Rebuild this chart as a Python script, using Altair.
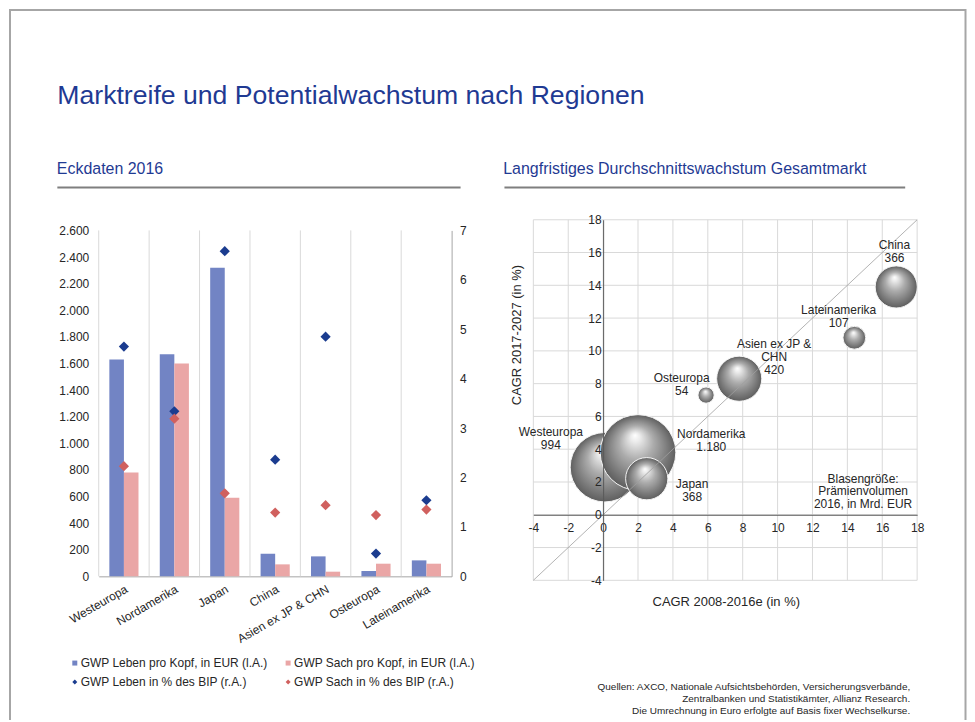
import altair as alt
import pandas as pd

# ---------------- data ----------------
regions = ["Westeuropa", "Nordamerika", "Japan", "China", "Asien ex JP & CHN", "Osteuropa", "Lateinamerika"]
leben_pro_kopf = [1630, 1670, 2320, 170, 150, 40, 120]
sach_pro_kopf = [780, 1600, 590, 90, 35, 95, 95]
leben_bip = [4.65, 3.34, 6.58, 2.36, 4.85, 0.46, 1.54]
sach_bip = [2.23, 3.19, 1.68, 1.29, 1.44, 1.24, 1.35]
series = ["GWP Leben pro Kopf, in EUR (l.A.)", "GWP Sach pro Kopf, in EUR (l.A.)",
          "GWP Leben in % des BIP (r.A.)", "GWP Sach in % des BIP (r.A.)"]
left_ticks = list(range(0, 2601, 200))
right_ticks = list(range(0, 8))

bubble_regions = ["Westeuropa", "Nordamerika", "Japan", "Osteuropa", "Asien ex JP & CHN", "Lateinamerika", "China"]
cagr_2008_2016 = [0.1, 2.0, 2.5, 5.9, 7.8, 14.4, 16.8]
cagr_2017_2027 = [2.9, 3.8, 2.2, 7.3, 8.3, 10.8, 13.9]
volumen = [994, 1180, 368, 54, 420, 107, 366]
bubble_labels = ["Westeuropa\n994", "Nordamerika\n1.180", "Japan\n368", "Osteuropa\n54",
                 "Asien ex JP &\nCHN\n420", "Lateinamerika\n107", "China\n366"]
label_x = [-3.0, 6.2, 5.1, 4.5, 9.8, 13.5, 16.7]
label_y = [5.04, 4.92, 1.9, 8.37, 10.4, 12.48, 16.48]
bubble_ticks = list(range(-4, 19, 2))

title = "Marktreife und Potentialwachstum nach Regionen"
sub_left = "Eckdaten 2016"
sub_right = "Langfristiges Durchschnittswachstum Gesamtmarkt"
x_title_bubble = "CAGR 2008-2016e (in %)"
y_title_bubble = "CAGR 2017-2027 (in %)"
note = "Blasengröße:\nPrämienvolumen\n2016, in Mrd. EUR"
note_x, note_y = 14.9, 2.18
footer = ("Quellen: AXCO, Nationale Aufsichtsbehörden, Versicherungsverbände,\n"
          "Zentralbanken und Statistikämter, Allianz Research.\n"
          "Die Umrechnung in Euro erfolgte auf Basis fixer Wechselkurse.")

# ---------------- layout ----------------
W, H = 962, 712
FONT = "Liberation Sans, Arial, sans-serif"
BLUE_T = "#1f3a93"
TXT = "#262626"

LX0, LX1 = 91, 445        # left plot x range
LYB, LYT = 569, 222       # left plot y bottom / top
BX0, BX1 = 527, 912       # bubble plot x range
BYB, BYT = 573, 211.3     # bubble plot y bottom / top
bx0 = BX0 + (0 - (-4)) * (BX1 - BX0) / 22.0
by0 = BYB + (0 - (-4)) * (BYT - BYB) / 22.0


def cat_scale():
    return alt.Scale(domain=regions, range=[LX0, LX1], paddingInner=0, paddingOuter=0)


def bx_scale():
    return alt.Scale(domain=[-4, 18], range=[BX0, BX1], nice=False, zero=False)


def by_scale():
    return alt.Scale(domain=[-4, 18], range=[BYB, BYT], nice=False, zero=False)


def text_layer(s, x, y, **kw):
    return alt.Chart(pd.DataFrame({"t": [s]})).mark_text(font=FONT, lineBreak="\n", **kw).encode(
        x=alt.value(x), y=alt.value(y), text="t:N")


one = pd.DataFrame({"a": [0]})

frame = alt.Chart(one).mark_rect(fillOpacity=0, stroke="#a6a6a6", strokeWidth=2).encode(
    x=alt.value(2), x2=alt.value(960.5), y=alt.value(1), y2=alt.value(H + 40))

t_title = text_layer(title, 49.5, 95.5, fontSize=26.7, color=BLUE_T, align="left", baseline="alphabetic")
t_sub_l = text_layer(sub_left, 49, 165.3, fontSize=16, color=BLUE_T, align="left", baseline="alphabetic")
t_sub_r = text_layer(sub_right, 496.8, 165.3, fontSize=16, color=BLUE_T, align="left", baseline="alphabetic")
rule_l = alt.Chart(one).mark_rule(color="#7f7f7f", strokeWidth=2).encode(
    x=alt.value(49.5), x2=alt.value(454), y=alt.value(179))
rule_r = alt.Chart(one).mark_rule(color="#7f7f7f", strokeWidth=2).encode(
    x=alt.value(498), x2=alt.value(900), y=alt.value(179))
t_footer = text_layer(footer, 905, 675.5, fontSize=10, color=TXT, align="right", baseline="top", lineHeight=12)
t_xt = text_layer(x_title_bubble, 720.5, 595, fontSize=13, color=TXT, align="center", baseline="middle")
t_yt = text_layer(y_title_bubble, 511, 327, fontSize=13, color=TXT, align="center", baseline="middle", angle=270)

# ---------------- left chart ----------------
legend = alt.Legend(title=None, orient="none", legendX=61, legendY=650, columns=2, direction="horizontal",
                    columnPadding=14, rowPadding=7, labelFont=FONT, labelFontSize=12, labelColor=TXT,
                    symbolSize=25, labelLimit=400, labelOffset=0, symbolStrokeWidth=0)
color_scale = alt.Scale(domain=series, range=["#7284c4", "#eaa6a6", "#1b3c8f", "#d0605e"])
shape_scale = alt.Scale(domain=series, range=["square", "square", "diamond", "diamond"])

sep = alt.Chart(pd.DataFrame({"Region": regions})).mark_rule(color="#d9d9d9", strokeWidth=1).encode(
    x=alt.X("Region:N", scale=cat_scale(), bandPosition=0, axis=None),
    y=alt.Y(datum=0, scale=alt.Scale(domain=[0, 2600], range=[LYB, LYT]), axis=None),
    y2=alt.Y2(datum=2600),
)

bars_df = pd.DataFrame({
    "Region": regions * 2,
    "Serie": [series[0]] * 7 + [series[1]] * 7,
    "Wert": leben_pro_kopf + sach_pro_kopf,
})
bars = alt.Chart(bars_df).mark_bar().encode(
    x=alt.X("Region:N", sort=regions, scale=cat_scale(),
            axis=alt.Axis(orient="bottom", offset=LYB - H, title=None, labelAngle=-30, ticks=False, tickSize=0,
                          labelPadding=7, domainColor="#a6a6a6", labelFontSize=12, labelColor=TXT,
                          labelFont=FONT, grid=False, labelOverlap=False)),
    xOffset=alt.XOffset("Serie:N", sort=series[:2],
                        scale=alt.Scale(domain=series[:2], paddingInner=0, paddingOuter=0.73)),
    y=alt.Y("Wert:Q", scale=alt.Scale(domain=[0, 2600], range=[LYB, LYT], nice=False),
            axis=alt.Axis(orient="left", offset=-LX0, title=None, values=left_ticks,
                          labelExpr="replace(format(datum.value, ','), ',', '.')",
                          grid=False, ticks=False, tickSize=0, labelPadding=10, domain=False,
                          labelFontSize=12, labelColor=TXT, labelFont=FONT)),
    color=alt.Color("Serie:N", scale=color_scale, legend=legend),
)

pts_df = pd.DataFrame({
    "Region": regions * 2,
    "Serie": [series[2]] * 7 + [series[3]] * 7,
    "Wert": leben_bip + sach_bip,
})
pts = alt.Chart(pts_df).mark_point(filled=True, size=105, opacity=1).encode(
    x=alt.X("Region:N", sort=regions, scale=cat_scale(), axis=None),
    y=alt.Y("Wert:Q", scale=alt.Scale(domain=[0, 7], range=[LYB, LYT], nice=False),
            axis=alt.Axis(orient="right", offset=LX1 - W, title=None, values=right_ticks,
                          grid=False, ticks=False, tickSize=0, labelPadding=8, domainColor="#a6a6a6",
                          labelFontSize=12, labelColor=TXT, labelFont=FONT)),
    color=alt.Color("Serie:N", scale=color_scale, legend=legend),
    shape=alt.Shape("Serie:N", scale=shape_scale, legend=legend),
)

# ---------------- bubble chart ----------------
tick_df = pd.DataFrame({"t": bubble_ticks})
grid_x = alt.Chart(tick_df).mark_rule(color="#d9d9d9", strokeWidth=1).encode(
    x=alt.X("t:Q", scale=bx_scale(), axis=None),
    y=alt.Y(datum=-4, scale=by_scale(), axis=None), y2=alt.Y2(datum=18))
grid_y = alt.Chart(tick_df).mark_rule(color="#d9d9d9", strokeWidth=1).encode(
    y=alt.Y("t:Q", scale=by_scale(), axis=None),
    x=alt.X(datum=-4, scale=bx_scale(), axis=None), x2=alt.X2(datum=18))

sphere = {
    "gradient": "radial",
    "x1": 0.46, "y1": 0.27, "r1": 0.0,
    "x2": 0.5, "y2": 0.5, "r2": 0.5,
    "stops": [
        {"offset": 0.0, "color": "#ffffff"},
        {"offset": 0.12, "color": "#ececec"},
        {"offset": 0.45, "color": "#acacac"},
        {"offset": 0.8, "color": "#7a7a7a"},
        {"offset": 1.0, "color": "#5e5e5e"},
    ],
}

bdf = pd.DataFrame({
    "Region": bubble_regions,
    "x": cagr_2008_2016,
    "y": cagr_2017_2027,
    "vol": volumen,
    "label": bubble_labels,
    "lx": label_x,
    "ly": label_y,
})
bubbles = alt.Chart(bdf).mark_circle(fill=sphere, opacity=1, stroke="#f4f4f4", strokeWidth=1).encode(
    x=alt.X("x:Q", scale=bx_scale(),
            axis=alt.Axis(orient="bottom", offset=by0 - H, title=None, values=bubble_ticks, grid=False,
                          ticks=False, tickSize=0, labelPadding=8, labelFlush=False, labelOverlap=False,
                          labelExpr="'' + datum.value",
                          domainColor="#595959", labelFontSize=12, labelColor=TXT, labelFont=FONT, zindex=1)),
    y=alt.Y("y:Q", scale=by_scale(),
            axis=alt.Axis(orient="left", offset=-bx0, title=None, values=bubble_ticks, grid=False,
                          ticks=False, tickSize=0, labelPadding=2, labelFlush=False, labelOverlap=False,
                          labelExpr="'' + datum.value",
                          domainColor="#595959", labelFontSize=12, labelColor=TXT, labelFont=FONT, zindex=1)),
    size=alt.Size("vol:Q", scale=alt.Scale(domain=[0, 1180], range=[0, 5755]), legend=None),
)

diag = alt.Chart(pd.DataFrame({"v": [-4, 18]})).mark_line(color="#a0a0a0", strokeWidth=0.8).encode(
    x=alt.X("v:Q", scale=bx_scale(), axis=None),
    y=alt.Y("v:Q", scale=by_scale(), axis=None))

labels = alt.Chart(bdf).mark_text(font=FONT, fontSize=12, lineBreak="\n", lineHeight=13, color=TXT,
                                  align="center", baseline="middle").encode(
    x=alt.X("lx:Q", scale=bx_scale(), axis=None),
    y=alt.Y("ly:Q", scale=by_scale(), axis=None),
    text="label:N")

note_layer = alt.Chart(pd.DataFrame({"t": [note]})).mark_text(
    font=FONT, fontSize=12, lineBreak="\n", lineHeight=12.5, color=TXT, align="center", baseline="middle").encode(
    x=alt.X(datum=note_x, scale=bx_scale(), axis=None),
    y=alt.Y(datum=note_y, scale=by_scale(), axis=None),
    text="t:N")

chart = alt.layer(
    frame, t_title, t_sub_l, t_sub_r, rule_l, rule_r, t_footer, t_xt, t_yt,
    sep, bars, pts,
    grid_x, grid_y, bubbles, diag, labels, note_layer,
).resolve_scale(
    x="independent", y="independent"
).properties(
    width=W, height=H, padding=0, autosize=alt.AutoSizeParams(type="none"),
    background="white",
).configure_view(stroke=None)

chart.save("out.html", embed_options={"renderer": "svg", "actions": False})
